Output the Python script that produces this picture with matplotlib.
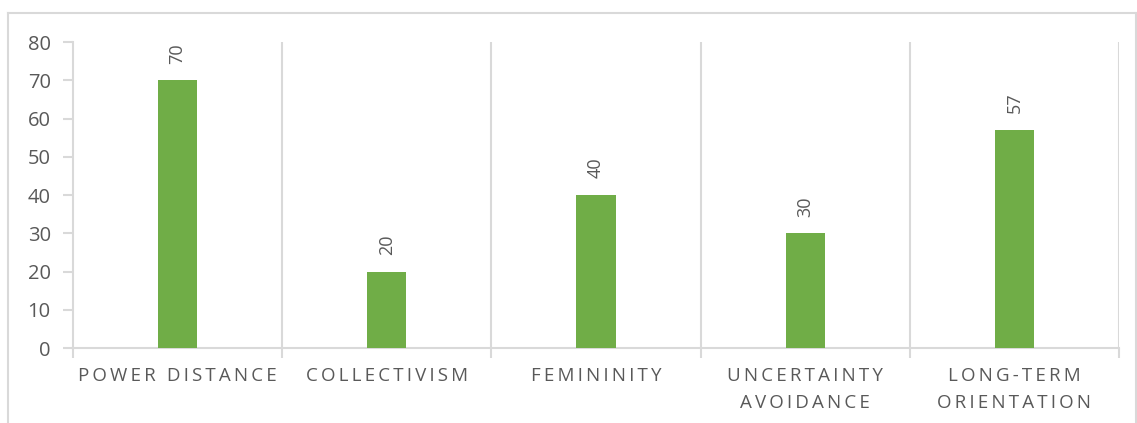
import matplotlib
matplotlib.use("Agg")
import matplotlib.pyplot as plt
from matplotlib.lines import Line2D

categories = ["POWER DISTANCE", "COLLECTIVISM", "FEMININITY",
              "UNCERTAINTY\nAVOIDANCE", "LONG-TERM\nORIENTATION"]
values = [70, 20, 40, 30, 57]
y_ticks = [0, 10, 20, 30, 40, 50, 60, 70, 80]

BAR = "#70ad47"
GRID = "#d9d9d9"
TEXT = "#595959"
FONT = ["Open Sans", "DejaVu Sans"]


def spaced(label):
    # emulate letter spacing with thin spaces between characters
    lines = []
    for line in label.split("\n"):
        words = ["\u2009".join(w) for w in line.split(" ")]
        lines.append("\u2009 \u2009".join(words))
    return "\n".join(lines)


W, H = 1137, 423
fig = plt.figure(figsize=(W / 100, H / 100), dpi=100)
ax = fig.add_axes([73 / W, 1 - 348 / H, (1119 - 73) / W, (348 - 42) / H])

x = list(range(len(categories)))
ax.bar(x, values, width=0.187, color=BAR, zorder=3)

ax.set_xlim(-0.5, len(categories) - 0.5)
ax.set_ylim(0, 80)
ax.set_yticks(y_ticks)
ax.set_yticklabels([str(t) for t in y_ticks], fontsize=14.5, color=TEXT, family=FONT)

# vertical gridlines at category boundaries
bounds = [i - 0.5 for i in range(len(categories) + 1)]
for b in bounds[1:]:
    ax.axvline(b, color=GRID, lw=1.5, zorder=1)

ax.set_xticks(bounds)
ax.set_xticklabels([])
ax.set_xticks(x, minor=True)
ax.set_xticklabels([spaced(c) for c in categories], minor=True,
                   fontsize=13.5, color=TEXT, family=FONT, linespacing=1.62)
ax.tick_params(axis="x", which="minor", length=0, pad=14)
ax.tick_params(axis="x", which="major", length=7, width=1.5, color=GRID)
ax.tick_params(axis="y", length=7, width=1.5, color=GRID, pad=9)

for s in ["top", "right"]:
    ax.spines[s].set_visible(False)
for s in ["left", "bottom"]:
    ax.spines[s].set_color(GRID)
    ax.spines[s].set_linewidth(1.5)

for xi, v in zip(x, values):
    ax.annotate(str(v), (xi, v), xytext=(0, 12), textcoords="offset points",
                rotation=90, ha="center", va="bottom", fontsize=13,
                color=TEXT, family=FONT)

# chart frame
fx0, fy0, fx1 = 8 / W, 1 - 13 / H, 1136 / W
for xs, ys in [([fx0, fx1], [fy0, fy0]), ([fx0, fx0], [fy0, -0.1]), ([fx1, fx1], [fy0, -0.1])]:
    fig.add_artist(Line2D(xs, ys, color=GRID, lw=1.5, transform=fig.transFigure))

fig.savefig("out.png", dpi=100)
